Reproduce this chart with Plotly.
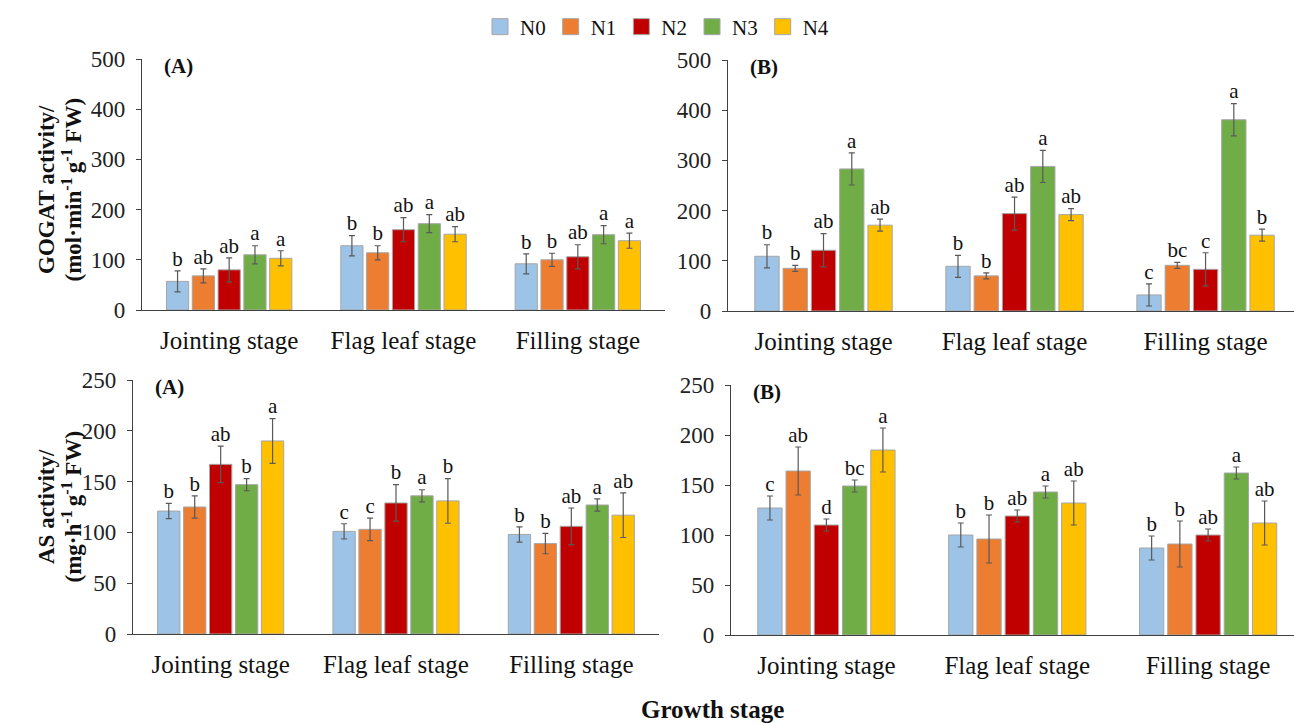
import plotly.graph_objects as go

stages = ["Jointing stage", "Flag leaf stage", "Filling stage"]
treatments = ["N0", "N1", "N2", "N3", "N4"]
colors = ["#9DC3E6", "#ED7D31", "#C00000", "#70AD47", "#FFC000"]

# GOGAT activity, panel (A): rows = N0..N4, columns = stages
gogat_a_mean = [[57, 128, 92], [68, 114, 100], [80, 160, 106], [110, 172, 150], [103, 151, 138]]
gogat_a_err = [[21, 20, 20], [14, 14, 13], [24, 24, 24], [18, 18, 18], [15, 15, 15]]
gogat_a_let = [["b", "b", "b"], ["ab", "b", "b"], ["ab", "ab", "ab"], ["a", "a", "a"], ["a", "ab", "a"]]

# GOGAT activity, panel (B)
gogat_b_mean = [[109, 89, 32], [85, 70, 91], [121, 194, 83], [283, 288, 381], [171, 192, 151]]
gogat_b_err = [[23, 22, 22], [6, 6, 6], [33, 33, 33], [32, 32, 32], [12, 12, 12]]
gogat_b_let = [["b", "b", "c"], ["b", "b", "bc"], ["ab", "ab", "c"], ["a", "a", "a"], ["ab", "ab", "b"]]

# AS activity, panel (A)
as_a_mean = [[121, 101, 98], [125, 103, 89], [167, 129, 106], [147, 136, 127], [190, 131, 117]]
as_a_err = [[7.5, 7.5, 7.5], [11, 11, 10], [18, 18, 18], [6, 6, 6], [22, 22, 22]]
as_a_let = [["b", "c", "b"], ["b", "c", "b"], ["ab", "b", "ab"], ["b", "a", "a"], ["a", "b", "ab"]]

# AS activity, panel (B)
as_b_mean = [[127, 100, 87], [164, 96, 91], [110, 119, 100], [149, 143, 162], [185, 132, 112]]
as_b_err = [[12, 12, 12], [24, 24, 23], [6, 6, 6], [6, 6, 6], [22, 22, 22]]
as_b_let = [["c", "b", "b"], ["ab", "b", "b"], ["d", "ab", "ab"], ["bc", "a", "a"], ["a", "ab", "ab"]]

W, H = 1294, 723
SERIF = "Liberation Serif"
AXC = "#404040"
TXT = "#111111"

panels = [
    # (means, errs, letters, xaxis id, yaxis id, px x-domain, px y-domain, y max, x range end, label)
    (gogat_a_mean, gogat_a_err, gogat_a_let, "x", "y", (142, 665), (59, 310), 500, 2.5, "(A)"),
    (gogat_b_mean, gogat_b_err, gogat_b_let, "x2", "y2", (728, 1294), (60, 311), 500, 2.463, "(B)"),
    (as_a_mean, as_a_err, as_a_let, "x3", "y3", (133, 659), (380, 634), 250, 2.5, "(A)"),
    (as_b_mean, as_b_err, as_b_let, "x4", "y4", (731, 1294), (385, 635), 250, 2.45, "(B)"),
]

fig = go.Figure()
layout = {}
annotations = []

for pi, (means, errs, lets, xa, ya, xd, yd, ymax, xend, lab) in enumerate(panels):
    for ti, t in enumerate(treatments):
        fig.add_trace(go.Bar(
            x=stages, y=means[ti], name=t, xaxis=xa, yaxis=ya,
            marker=dict(color=colors[ti], line=dict(color="#A6A6A6", width=1)),
            error_y=dict(type="data", array=errs[ti], color="#595959", thickness=1.2, width=3),
            legendgroup=t, showlegend=False,
        ))
    for ti, t in enumerate(treatments):
        fig.add_trace(go.Scatter(
            x=stages, y=[m + e for m, e in zip(means[ti], errs[ti])], text=lets[ti],
            mode="text", textposition="top center", xaxis=xa, yaxis=ya,
            textfont=dict(family=SERIF, size=21, color=TXT),
            showlegend=False, hoverinfo="skip", legendgroup=t,
        ))
    suffix = "" if xa == "x" else xa[1:]
    layout["xaxis" + suffix] = dict(
        domain=[xd[0] / W, xd[1] / W], anchor=ya, range=[-0.5, xend],
        showline=True, linecolor=AXC, linewidth=1.3, ticks="",
        tickfont=dict(family=SERIF, size=25, color=TXT),
        ticklabelstandoff=8, showgrid=False, zeroline=False, fixedrange=True,
    )
    layout["yaxis" + suffix] = dict(
        domain=[1 - yd[1] / H, 1 - yd[0] / H], anchor=xa, range=[0, ymax],
        dtick=100 if ymax == 500 else 50,
        showline=True, linecolor=AXC, linewidth=1.3, ticks="outside", ticklen=5,
        tickcolor=AXC, tickwidth=1.2, ticklabelstandoff=6,
        tickfont=dict(family=SERIF, size=23, color="#222222"),
        showgrid=False, zeroline=False, fixedrange=True,
    )
    annotations.append(dict(
        text="<b>%s</b>" % lab, xref="paper", yref="paper",
        x=(xd[0] + 20) / W, y=1 - (yd[0] + 7) / H, xanchor="left", yanchor="middle",
        showarrow=False, font=dict(family=SERIF, size=21, color=TXT),
    ))

# legend-only swatches on a hidden axis pair
for ti, t in enumerate(treatments):
    fig.add_trace(go.Scatter(
        x=[None], y=[None], mode="markers", name=t, xaxis="x5", yaxis="y5",
        marker=dict(symbol="square", size=16, color=colors[ti], line=dict(color="#A6A6A6", width=1)),
        legendgroup=t, showlegend=True, hoverinfo="skip",
    ))
layout["xaxis5"] = dict(domain=[0, 0.01], anchor="y5", visible=False)
layout["yaxis5"] = dict(domain=[0, 0.01], anchor="x5", visible=False)

ytitles = [
    ("<b>GOGAT activity/</b>", 47, 190, "center"),
    ("<b>(mol·min<sup>-1 </sup>g<sup>-1</sup> FW)</b>", 89, 190, "right"),
    ("<b>AS activity/</b>", 47, 507, "center"),
    ("<b>(mg·h<sup>-1 </sup>g<sup>-1</sup> FW)</b>", 89, 507, "right"),
]
for txt, px, py, xa in ytitles:
    annotations.append(dict(
        text=txt, xref="paper", yref="paper", x=px / W, y=1 - py / H, textangle=-90,
        xanchor=xa, yanchor="middle", showarrow=False,
        font=dict(family=SERIF, size=23, color=TXT),
    ))
annotations.append(dict(
    text="<b>Growth stage</b>", xref="paper", yref="paper", x=712 / W, y=1 - 709 / H,
    xanchor="center", yanchor="middle", showarrow=False,
    font=dict(family=SERIF, size=25, color=TXT),
))

fig.update_layout(
    width=W, height=H, margin=dict(l=0, r=0, t=0, b=0, autoexpand=False),
    paper_bgcolor="white", plot_bgcolor="white",
    barmode="group", bargap=0.26, bargroupgap=0.14,
    scattermode="group", scattergap=0.26,
    showlegend=True,
    legend=dict(orientation="h", x=657 / W, xanchor="center", y=1 - 27 / H, yanchor="middle",
                font=dict(family=SERIF, size=21, color=TXT), traceorder="normal",
                bgcolor="rgba(0,0,0,0)"),
    annotations=annotations,
    **layout,
)

fig.write_html("out.html", config={"displayModeBar": False},
               post_script="document.body.style.margin='0px';document.body.style.overflow='hidden';")
